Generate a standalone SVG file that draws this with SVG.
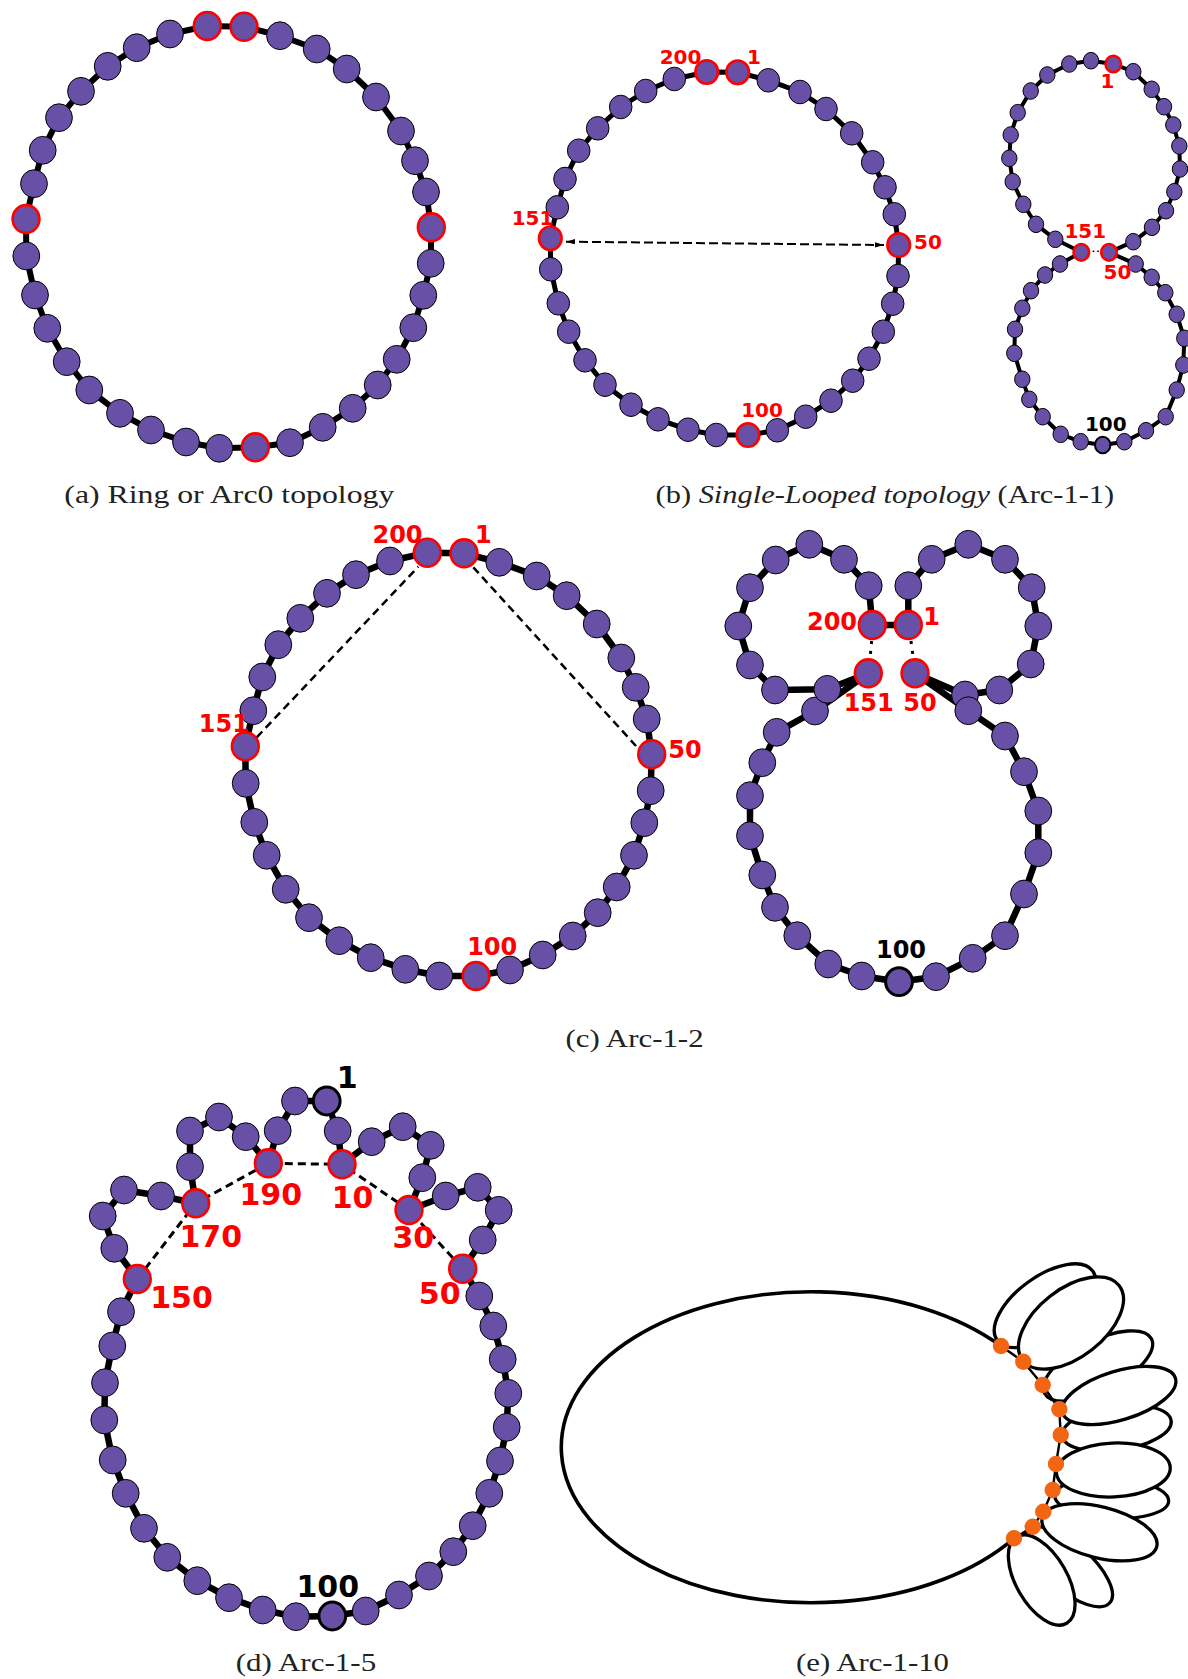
<svg xmlns="http://www.w3.org/2000/svg" xmlns:xlink="http://www.w3.org/1999/xlink" width="1188" height="1679" viewBox="0 0 1188 1679">
<style>
.n{fill:#6750a6;stroke:#000;stroke-width:1}
.r{fill:#6750a6;stroke:#f00;stroke-width:2.6}
.k{fill:#6750a6;stroke:#000;stroke-width:3}
.w{fill:none;stroke:#000;stroke-linejoin:round}
.lb{font-family:"DejaVu Sans",Verdana,sans-serif;font-weight:bold;fill:#f00;text-anchor:middle}
.lk{font-family:"DejaVu Sans",Verdana,sans-serif;font-weight:bold;fill:#000;text-anchor:middle}
.cap{font-family:"Liberation Serif","Times New Roman",serif;font-size:25px;fill:#222}
.pet{fill:#fff;stroke:#000;stroke-width:3.3}
.dot{fill:#f26513}
</style>
<defs>
<ellipse id="na" cx="0" cy="0" rx="13.4" ry="13.9"/>
<ellipse id="nb" cx="0" cy="0" rx="11.3" ry="11.8"/>
<ellipse id="nr" cx="0" cy="0" rx="7.7" ry="8.3"/>
<marker id="ah" viewBox="0 0 10 6" refX="10" refY="3" markerWidth="9" markerHeight="5.4" markerUnits="userSpaceOnUse" orient="auto-start-reverse"><path d="M0,0 L10,3 L0,6 z" fill="#000"/></marker>
</defs>
<rect width="1188" height="1679" fill="#fff"/>

<g id="connectors">
<polygon class="w" stroke-width="6" points="207.3,26 244,26.7 280,35.7 316.7,49 346.7,69 376,97 401,131 415,160.7 426,192 431.3,227.3 430.7,263.3 423.3,295.3 413.3,327.7 396.7,359.3 377.7,385 352.7,408.3 322.7,427.3 290,442.7 255.3,447.3 219.3,448.3 186,442 151,430 120,413.3 89.3,390 66.7,361.7 47.3,328.3 35,295 26.3,256 26,219 34,183.7 42.7,150.3 59,117.7 81,91.3 107.7,66.3 136.7,47.7 170,34"/>
<polygon class="w" stroke-width="5" points="706.7,72 737.7,72.3 768.3,80.3 800,92 826,109 851.7,133.3 872.7,162.3 885,187.3 894.3,214.3 898.7,245 898,276 892.7,303.7 883.3,331.7 869,358.7 852.7,380.7 831,400.7 805.7,416.7 777.3,430.3 748,435 716.3,435 688,429.7 658,419.3 631,404.7 605,384.7 585,360.3 568.7,331.7 558.3,303.3 550.7,269.3 550.3,238.3 557.3,207.3 565,179 578.7,150.7 597.7,128.3 620.7,107 645.7,91 674.3,79"/>
<line x1="566" y1="241.7" x2="884" y2="245" stroke="#000" stroke-width="2" stroke-dasharray="9 4" marker-start="url(#ah)" marker-end="url(#ah)"/>
<polygon class="w" stroke-width="4" points="1113.3,64 1133.3,71.7 1151.7,89.3 1164,106.7 1173.3,125 1179.3,146 1180,169 1174.3,191.7 1166,210.7 1152,227.3 1133.3,241.7 1109,252.3 1135.7,264 1151.7,277.3 1165.3,292.7 1176.7,314.3 1184.3,338.3 1183.3,365 1176.7,390 1165.7,416.7 1146,430.7 1124.3,441.7 1102.7,445 1080.7,441.7 1060.7,434.3 1042.7,416.7 1029.3,399.3 1022.3,379.3 1014.3,353.3 1015,329.3 1022.3,308.3 1031,290.7 1045,275 1060,264 1081.3,252.3 1055.3,239.3 1036,224.3 1023.3,204.3 1012.7,181.7 1009.3,158.3 1010.7,135 1017.7,112.7 1030.7,91 1047.3,75 1069.3,64 1091,60.7"/>
<line x1="1088" y1="251.3" x2="1102" y2="251.3" stroke="#000" stroke-width="1.6" stroke-dasharray="1.6 3"/>
<polygon class="w" stroke-width="6.5" points="427.3,552.7 464,553.3 499.3,562.3 536.7,576 566.7,595.7 596.7,624 621.3,658 635.7,687.3 646.7,719 651.7,754.3 650.7,790.7 644.3,822.7 634,855.3 616.7,887 597.7,912.7 572.7,936 542.7,955 510,970 476,976 439.3,976 405.3,969.3 370.7,957.7 339.3,940.7 309,917.7 285.7,889.3 266.7,855.3 254.3,822.3 245.7,783.3 245.3,746.3 253.3,710.7 262.3,677 278.3,644.7 300.3,618.3 327,593.3 356,574.7 390,561"/>
<line x1="256.7" y1="737.3" x2="418.3" y2="566.7" stroke="#000" stroke-width="2.5" stroke-dasharray="8 5"/>
<line x1="473.3" y1="567.3" x2="636" y2="746" stroke="#000" stroke-width="2.5" stroke-dasharray="8 5"/>
<polygon class="w" stroke-width="6.5" points="908.3,625 908.3,585.7 931.7,559.3 968.3,544.3 1005,559.3 1031.7,587.7 1038.3,626 1030.7,664 999.3,690 965,695 915,673.3 968.3,710.7 1005,736 1024,771.7 1038.3,811 1038.3,852.7 1024,894 1005,935.7 972.7,958.3 936,976.7 899,981.7 861.7,976 828.3,964 797.3,935.7 775,907.3 762.3,875 750,835.7 750,795.7 762.3,762.7 776.7,732.3 815,711 868.3,673.3 827.3,689.3 775,690 750,665 738.3,626 750,587.7 775.7,560 809.3,544.3 844,559.3 868.7,585.7 872.3,625"/>
<line x1="871.7" y1="641" x2="870" y2="658" stroke="#000" stroke-width="3" stroke-dasharray="3 7"/>
<line x1="911" y1="641" x2="913.3" y2="658" stroke="#000" stroke-width="3" stroke-dasharray="3 7"/>
<polygon class="w" stroke-width="6.5" points="326.7,1101 337.7,1131 342,1164.3 371.7,1141.7 402.7,1126.7 430.7,1145.3 422.3,1177.7 409,1210 445.7,1196 477.7,1187.3 498.7,1210.3 482.7,1240 462.7,1268.7 479.3,1296 493.3,1326 502.7,1359.3 508.3,1393.3 506.7,1427.3 500,1461 489.3,1493.3 472.7,1525.7 453.3,1551.7 429,1576 399,1595 365.7,1611 332.3,1616 296,1616.7 262.7,1610 229,1597.7 197.3,1580.7 167.3,1557.3 144,1528.3 125.7,1493.3 112.7,1460 104.3,1420 105,1382.7 112.3,1346 121,1311.7 137.3,1279 114.3,1248.3 102.7,1216 124,1190 161,1196 195.7,1203.3 190,1166.7 190,1131 219,1117 245.7,1136.7 268.3,1163.3 277.7,1130.7 295,1101"/>
<polyline fill="none" stroke="#000" stroke-width="3" stroke-dasharray="8 5" points="137.3,1279 195.7,1203.3 268.3,1163.3 342,1164.3 409,1210 462.7,1268.7"/>
</g>

<g id="panel-a">
<g id="a1" class="r"><use href="#na" x="207.3" y="26"/></g>
<g id="a2" class="r"><use href="#na" x="244" y="26.7"/></g>
<g id="a3" class="n"><use href="#na" x="280" y="35.7"/></g>
<g id="a4" class="n"><use href="#na" x="316.7" y="49"/></g>
<g id="a5" class="n"><use href="#na" x="346.7" y="69"/></g>
<g id="a6" class="n"><use href="#na" x="376" y="97"/></g>
<g id="a7" class="n"><use href="#na" x="401" y="131"/></g>
<g id="a8" class="n"><use href="#na" x="415" y="160.7"/></g>
<g id="a9" class="n"><use href="#na" x="426" y="192"/></g>
<g id="a10" class="r"><use href="#na" x="431.3" y="227.3"/></g>
<g id="a11" class="n"><use href="#na" x="430.7" y="263.3"/></g>
<g id="a12" class="n"><use href="#na" x="423.3" y="295.3"/></g>
<g id="a13" class="n"><use href="#na" x="413.3" y="327.7"/></g>
<g id="a14" class="n"><use href="#na" x="396.7" y="359.3"/></g>
<g id="a15" class="n"><use href="#na" x="377.7" y="385"/></g>
<g id="a16" class="n"><use href="#na" x="352.7" y="408.3"/></g>
<g id="a17" class="n"><use href="#na" x="322.7" y="427.3"/></g>
<g id="a18" class="n"><use href="#na" x="290" y="442.7"/></g>
<g id="a19" class="r"><use href="#na" x="255.3" y="447.3"/></g>
<g id="a20" class="n"><use href="#na" x="219.3" y="448.3"/></g>
<g id="a21" class="n"><use href="#na" x="186" y="442"/></g>
<g id="a22" class="n"><use href="#na" x="151" y="430"/></g>
<g id="a23" class="n"><use href="#na" x="120" y="413.3"/></g>
<g id="a24" class="n"><use href="#na" x="89.3" y="390"/></g>
<g id="a25" class="n"><use href="#na" x="66.7" y="361.7"/></g>
<g id="a26" class="n"><use href="#na" x="47.3" y="328.3"/></g>
<g id="a27" class="n"><use href="#na" x="35" y="295"/></g>
<g id="a28" class="n"><use href="#na" x="26.3" y="256"/></g>
<g id="a29" class="r"><use href="#na" x="26" y="219"/></g>
<g id="a30" class="n"><use href="#na" x="34" y="183.7"/></g>
<g id="a31" class="n"><use href="#na" x="42.7" y="150.3"/></g>
<g id="a32" class="n"><use href="#na" x="59" y="117.7"/></g>
<g id="a33" class="n"><use href="#na" x="81" y="91.3"/></g>
<g id="a34" class="n"><use href="#na" x="107.7" y="66.3"/></g>
<g id="a35" class="n"><use href="#na" x="136.7" y="47.7"/></g>
<g id="a36" class="n"><use href="#na" x="170" y="34"/></g>
<text class="cap" x="64.3" y="503" textLength="330" lengthAdjust="spacingAndGlyphs">(a) Ring or Arc0 topology</text>
</g>

<g id="panel-b-left">
<g id="b1" class="r"><use href="#nb" x="706.7" y="72"/></g>
<g id="b2" class="r"><use href="#nb" x="737.7" y="72.3"/></g>
<g id="b3" class="n"><use href="#nb" x="768.3" y="80.3"/></g>
<g id="b4" class="n"><use href="#nb" x="800" y="92"/></g>
<g id="b5" class="n"><use href="#nb" x="826" y="109"/></g>
<g id="b6" class="n"><use href="#nb" x="851.7" y="133.3"/></g>
<g id="b7" class="n"><use href="#nb" x="872.7" y="162.3"/></g>
<g id="b8" class="n"><use href="#nb" x="885" y="187.3"/></g>
<g id="b9" class="n"><use href="#nb" x="894.3" y="214.3"/></g>
<g id="b10" class="r"><use href="#nb" x="898.7" y="245"/></g>
<g id="b11" class="n"><use href="#nb" x="898" y="276"/></g>
<g id="b12" class="n"><use href="#nb" x="892.7" y="303.7"/></g>
<g id="b13" class="n"><use href="#nb" x="883.3" y="331.7"/></g>
<g id="b14" class="n"><use href="#nb" x="869" y="358.7"/></g>
<g id="b15" class="n"><use href="#nb" x="852.7" y="380.7"/></g>
<g id="b16" class="n"><use href="#nb" x="831" y="400.7"/></g>
<g id="b17" class="n"><use href="#nb" x="805.7" y="416.7"/></g>
<g id="b18" class="n"><use href="#nb" x="777.3" y="430.3"/></g>
<g id="b19" class="r"><use href="#nb" x="748" y="435"/></g>
<g id="b20" class="n"><use href="#nb" x="716.3" y="435"/></g>
<g id="b21" class="n"><use href="#nb" x="688" y="429.7"/></g>
<g id="b22" class="n"><use href="#nb" x="658" y="419.3"/></g>
<g id="b23" class="n"><use href="#nb" x="631" y="404.7"/></g>
<g id="b24" class="n"><use href="#nb" x="605" y="384.7"/></g>
<g id="b25" class="n"><use href="#nb" x="585" y="360.3"/></g>
<g id="b26" class="n"><use href="#nb" x="568.7" y="331.7"/></g>
<g id="b27" class="n"><use href="#nb" x="558.3" y="303.3"/></g>
<g id="b28" class="n"><use href="#nb" x="550.7" y="269.3"/></g>
<g id="b29" class="r"><use href="#nb" x="550.3" y="238.3"/></g>
<g id="b30" class="n"><use href="#nb" x="557.3" y="207.3"/></g>
<g id="b31" class="n"><use href="#nb" x="565" y="179"/></g>
<g id="b32" class="n"><use href="#nb" x="578.7" y="150.7"/></g>
<g id="b33" class="n"><use href="#nb" x="597.7" y="128.3"/></g>
<g id="b34" class="n"><use href="#nb" x="620.7" y="107"/></g>
<g id="b35" class="n"><use href="#nb" x="645.7" y="91"/></g>
<g id="b36" class="n"><use href="#nb" x="674.3" y="79"/></g>
<text class="lb" font-size="20" x="680.5" y="64">200</text>
<text class="lb" font-size="20" x="754" y="64">1</text>
<text class="lb" font-size="20" x="532.5" y="225">151</text>
<text class="lb" font-size="20" x="928" y="248.5">50</text>
<text class="lb" font-size="20" x="762" y="416.7">100</text>
</g>

<g id="panel-b-right">
<g id="br1" class="r"><use href="#nr" x="1113.3" y="64"/></g>
<g id="br2" class="n"><use href="#nr" x="1133.3" y="71.7"/></g>
<g id="br3" class="n"><use href="#nr" x="1151.7" y="89.3"/></g>
<g id="br4" class="n"><use href="#nr" x="1164" y="106.7"/></g>
<g id="br5" class="n"><use href="#nr" x="1173.3" y="125"/></g>
<g id="br6" class="n"><use href="#nr" x="1179.3" y="146"/></g>
<g id="br7" class="n"><use href="#nr" x="1180" y="169"/></g>
<g id="br8" class="n"><use href="#nr" x="1174.3" y="191.7"/></g>
<g id="br9" class="n"><use href="#nr" x="1166" y="210.7"/></g>
<g id="br10" class="n"><use href="#nr" x="1152" y="227.3"/></g>
<g id="br11" class="n"><use href="#nr" x="1133.3" y="241.7"/></g>
<g id="br12" class="r"><use href="#nr" x="1109" y="252.3"/></g>
<g id="br13" class="n"><use href="#nr" x="1135.7" y="264"/></g>
<g id="br14" class="n"><use href="#nr" x="1151.7" y="277.3"/></g>
<g id="br15" class="n"><use href="#nr" x="1165.3" y="292.7"/></g>
<g id="br16" class="n"><use href="#nr" x="1176.7" y="314.3"/></g>
<g id="br17" class="n"><use href="#nr" x="1184.3" y="338.3"/></g>
<g id="br18" class="n"><use href="#nr" x="1183.3" y="365"/></g>
<g id="br19" class="n"><use href="#nr" x="1176.7" y="390"/></g>
<g id="br20" class="n"><use href="#nr" x="1165.7" y="416.7"/></g>
<g id="br21" class="n"><use href="#nr" x="1146" y="430.7"/></g>
<g id="br22" class="n"><use href="#nr" x="1124.3" y="441.7"/></g>
<g id="br23" class="k" style="stroke-width:2"><use href="#nr" x="1102.7" y="445"/></g>
<g id="br24" class="n"><use href="#nr" x="1080.7" y="441.7"/></g>
<g id="br25" class="n"><use href="#nr" x="1060.7" y="434.3"/></g>
<g id="br26" class="n"><use href="#nr" x="1042.7" y="416.7"/></g>
<g id="br27" class="n"><use href="#nr" x="1029.3" y="399.3"/></g>
<g id="br28" class="n"><use href="#nr" x="1022.3" y="379.3"/></g>
<g id="br29" class="n"><use href="#nr" x="1014.3" y="353.3"/></g>
<g id="br30" class="n"><use href="#nr" x="1015" y="329.3"/></g>
<g id="br31" class="n"><use href="#nr" x="1022.3" y="308.3"/></g>
<g id="br32" class="n"><use href="#nr" x="1031" y="290.7"/></g>
<g id="br33" class="n"><use href="#nr" x="1045" y="275"/></g>
<g id="br34" class="n"><use href="#nr" x="1060" y="264"/></g>
<g id="br35" class="r"><use href="#nr" x="1081.3" y="252.3"/></g>
<g id="br36" class="n"><use href="#nr" x="1055.3" y="239.3"/></g>
<g id="br37" class="n"><use href="#nr" x="1036" y="224.3"/></g>
<g id="br38" class="n"><use href="#nr" x="1023.3" y="204.3"/></g>
<g id="br39" class="n"><use href="#nr" x="1012.7" y="181.7"/></g>
<g id="br40" class="n"><use href="#nr" x="1009.3" y="158.3"/></g>
<g id="br41" class="n"><use href="#nr" x="1010.7" y="135"/></g>
<g id="br42" class="n"><use href="#nr" x="1017.7" y="112.7"/></g>
<g id="br43" class="n"><use href="#nr" x="1030.7" y="91"/></g>
<g id="br44" class="n"><use href="#nr" x="1047.3" y="75"/></g>
<g id="br45" class="n"><use href="#nr" x="1069.3" y="64"/></g>
<g id="br46" class="n"><use href="#nr" x="1091" y="60.7"/></g>
<text class="lb" font-size="20" x="1107.5" y="88.3">1</text>
<text class="lb" font-size="20" x="1085.3" y="237.7">151</text>
<text class="lb" font-size="20" x="1117.5" y="279.3">50</text>
<text class="lk" font-size="20" x="1105.8" y="430.7">100</text>
<text class="cap" x="655.6" y="503" textLength="458.5" lengthAdjust="spacingAndGlyphs">(b) <tspan font-style="italic">Single-Looped topology</tspan> (Arc-1-1)</text>
</g>

<g id="panel-c-left">
<g id="c1" class="r"><use href="#na" x="427.3" y="552.7"/></g>
<g id="c2" class="r"><use href="#na" x="464" y="553.3"/></g>
<g id="c3" class="n"><use href="#na" x="499.3" y="562.3"/></g>
<g id="c4" class="n"><use href="#na" x="536.7" y="576"/></g>
<g id="c5" class="n"><use href="#na" x="566.7" y="595.7"/></g>
<g id="c6" class="n"><use href="#na" x="596.7" y="624"/></g>
<g id="c7" class="n"><use href="#na" x="621.3" y="658"/></g>
<g id="c8" class="n"><use href="#na" x="635.7" y="687.3"/></g>
<g id="c9" class="n"><use href="#na" x="646.7" y="719"/></g>
<g id="c10" class="r"><use href="#na" x="651.7" y="754.3"/></g>
<g id="c11" class="n"><use href="#na" x="650.7" y="790.7"/></g>
<g id="c12" class="n"><use href="#na" x="644.3" y="822.7"/></g>
<g id="c13" class="n"><use href="#na" x="634" y="855.3"/></g>
<g id="c14" class="n"><use href="#na" x="616.7" y="887"/></g>
<g id="c15" class="n"><use href="#na" x="597.7" y="912.7"/></g>
<g id="c16" class="n"><use href="#na" x="572.7" y="936"/></g>
<g id="c17" class="n"><use href="#na" x="542.7" y="955"/></g>
<g id="c18" class="n"><use href="#na" x="510" y="970"/></g>
<g id="c19" class="r"><use href="#na" x="476" y="976"/></g>
<g id="c20" class="n"><use href="#na" x="439.3" y="976"/></g>
<g id="c21" class="n"><use href="#na" x="405.3" y="969.3"/></g>
<g id="c22" class="n"><use href="#na" x="370.7" y="957.7"/></g>
<g id="c23" class="n"><use href="#na" x="339.3" y="940.7"/></g>
<g id="c24" class="n"><use href="#na" x="309" y="917.7"/></g>
<g id="c25" class="n"><use href="#na" x="285.7" y="889.3"/></g>
<g id="c26" class="n"><use href="#na" x="266.7" y="855.3"/></g>
<g id="c27" class="n"><use href="#na" x="254.3" y="822.3"/></g>
<g id="c28" class="n"><use href="#na" x="245.7" y="783.3"/></g>
<g id="c29" class="r"><use href="#na" x="245.3" y="746.3"/></g>
<g id="c30" class="n"><use href="#na" x="253.3" y="710.7"/></g>
<g id="c31" class="n"><use href="#na" x="262.3" y="677"/></g>
<g id="c32" class="n"><use href="#na" x="278.3" y="644.7"/></g>
<g id="c33" class="n"><use href="#na" x="300.3" y="618.3"/></g>
<g id="c34" class="n"><use href="#na" x="327" y="593.3"/></g>
<g id="c35" class="n"><use href="#na" x="356" y="574.7"/></g>
<g id="c36" class="n"><use href="#na" x="390" y="561"/></g>
<text class="lb" font-size="24" x="397.5" y="543.3">200</text>
<text class="lb" font-size="24" x="483.3" y="543.3">1</text>
<text class="lb" font-size="24" x="223.8" y="731.7">151</text>
<text class="lb" font-size="24" x="685" y="758.3">50</text>
<text class="lb" font-size="24" x="492.2" y="955">100</text>
</g>

<g id="panel-c-right">
<g id="cr1" class="r"><use href="#na" x="908.3" y="625"/></g>
<g id="cr2" class="n"><use href="#na" x="908.3" y="585.7"/></g>
<g id="cr3" class="n"><use href="#na" x="931.7" y="559.3"/></g>
<g id="cr4" class="n"><use href="#na" x="968.3" y="544.3"/></g>
<g id="cr5" class="n"><use href="#na" x="1005" y="559.3"/></g>
<g id="cr6" class="n"><use href="#na" x="1031.7" y="587.7"/></g>
<g id="cr7" class="n"><use href="#na" x="1038.3" y="626"/></g>
<g id="cr8" class="n"><use href="#na" x="1030.7" y="664"/></g>
<g id="cr9" class="n"><use href="#na" x="999.3" y="690"/></g>
<g id="cr10" class="n"><use href="#na" x="965" y="695"/></g>
<g id="cr11" class="r"><use href="#na" x="915" y="673.3"/></g>
<g id="cr12" class="n"><use href="#na" x="968.3" y="710.7"/></g>
<g id="cr13" class="n"><use href="#na" x="1005" y="736"/></g>
<g id="cr14" class="n"><use href="#na" x="1024" y="771.7"/></g>
<g id="cr15" class="n"><use href="#na" x="1038.3" y="811"/></g>
<g id="cr16" class="n"><use href="#na" x="1038.3" y="852.7"/></g>
<g id="cr17" class="n"><use href="#na" x="1024" y="894"/></g>
<g id="cr18" class="n"><use href="#na" x="1005" y="935.7"/></g>
<g id="cr19" class="n"><use href="#na" x="972.7" y="958.3"/></g>
<g id="cr20" class="n"><use href="#na" x="936" y="976.7"/></g>
<g id="cr21" class="k"><use href="#na" x="899" y="981.7"/></g>
<g id="cr22" class="n"><use href="#na" x="861.7" y="976"/></g>
<g id="cr23" class="n"><use href="#na" x="828.3" y="964"/></g>
<g id="cr24" class="n"><use href="#na" x="797.3" y="935.7"/></g>
<g id="cr25" class="n"><use href="#na" x="775" y="907.3"/></g>
<g id="cr26" class="n"><use href="#na" x="762.3" y="875"/></g>
<g id="cr27" class="n"><use href="#na" x="750" y="835.7"/></g>
<g id="cr28" class="n"><use href="#na" x="750" y="795.7"/></g>
<g id="cr29" class="n"><use href="#na" x="762.3" y="762.7"/></g>
<g id="cr30" class="n"><use href="#na" x="776.7" y="732.3"/></g>
<g id="cr31" class="n"><use href="#na" x="815" y="711"/></g>
<g id="cr32" class="r"><use href="#na" x="868.3" y="673.3"/></g>
<g id="cr33" class="n"><use href="#na" x="827.3" y="689.3"/></g>
<g id="cr34" class="n"><use href="#na" x="775" y="690"/></g>
<g id="cr35" class="n"><use href="#na" x="750" y="665"/></g>
<g id="cr36" class="n"><use href="#na" x="738.3" y="626"/></g>
<g id="cr37" class="n"><use href="#na" x="750" y="587.7"/></g>
<g id="cr38" class="n"><use href="#na" x="775.7" y="560"/></g>
<g id="cr39" class="n"><use href="#na" x="809.3" y="544.3"/></g>
<g id="cr40" class="n"><use href="#na" x="844" y="559.3"/></g>
<g id="cr41" class="n"><use href="#na" x="868.7" y="585.7"/></g>
<g id="cr42" class="r"><use href="#na" x="872.3" y="625"/></g>
<text class="lb" font-size="24" x="832" y="630">200</text>
<text class="lb" font-size="24" x="931.7" y="625">1</text>
<text class="lb" font-size="24" x="868.7" y="710.7">151</text>
<text class="lb" font-size="24" x="920" y="710.7">50</text>
<text class="lk" font-size="24" x="901" y="958.3">100</text>
<text class="cap" x="565.6" y="1047" textLength="138" lengthAdjust="spacingAndGlyphs">(c) Arc-1-2</text>
</g>

<g id="panel-d">
<g id="d1" class="k"><use href="#na" x="326.7" y="1101"/></g>
<g id="d2" class="n"><use href="#na" x="337.7" y="1131"/></g>
<g id="d3" class="r"><use href="#na" x="342" y="1164.3"/></g>
<g id="d4" class="n"><use href="#na" x="371.7" y="1141.7"/></g>
<g id="d5" class="n"><use href="#na" x="402.7" y="1126.7"/></g>
<g id="d6" class="n"><use href="#na" x="430.7" y="1145.3"/></g>
<g id="d7" class="n"><use href="#na" x="422.3" y="1177.7"/></g>
<g id="d8" class="r"><use href="#na" x="409" y="1210"/></g>
<g id="d9" class="n"><use href="#na" x="445.7" y="1196"/></g>
<g id="d10" class="n"><use href="#na" x="477.7" y="1187.3"/></g>
<g id="d11" class="n"><use href="#na" x="498.7" y="1210.3"/></g>
<g id="d12" class="n"><use href="#na" x="482.7" y="1240"/></g>
<g id="d13" class="r"><use href="#na" x="462.7" y="1268.7"/></g>
<g id="d14" class="n"><use href="#na" x="479.3" y="1296"/></g>
<g id="d15" class="n"><use href="#na" x="493.3" y="1326"/></g>
<g id="d16" class="n"><use href="#na" x="502.7" y="1359.3"/></g>
<g id="d17" class="n"><use href="#na" x="508.3" y="1393.3"/></g>
<g id="d18" class="n"><use href="#na" x="506.7" y="1427.3"/></g>
<g id="d19" class="n"><use href="#na" x="500" y="1461"/></g>
<g id="d20" class="n"><use href="#na" x="489.3" y="1493.3"/></g>
<g id="d21" class="n"><use href="#na" x="472.7" y="1525.7"/></g>
<g id="d22" class="n"><use href="#na" x="453.3" y="1551.7"/></g>
<g id="d23" class="n"><use href="#na" x="429" y="1576"/></g>
<g id="d24" class="n"><use href="#na" x="399" y="1595"/></g>
<g id="d25" class="n"><use href="#na" x="365.7" y="1611"/></g>
<g id="d26" class="k"><use href="#na" x="332.3" y="1616"/></g>
<g id="d27" class="n"><use href="#na" x="296" y="1616.7"/></g>
<g id="d28" class="n"><use href="#na" x="262.7" y="1610"/></g>
<g id="d29" class="n"><use href="#na" x="229" y="1597.7"/></g>
<g id="d30" class="n"><use href="#na" x="197.3" y="1580.7"/></g>
<g id="d31" class="n"><use href="#na" x="167.3" y="1557.3"/></g>
<g id="d32" class="n"><use href="#na" x="144" y="1528.3"/></g>
<g id="d33" class="n"><use href="#na" x="125.7" y="1493.3"/></g>
<g id="d34" class="n"><use href="#na" x="112.7" y="1460"/></g>
<g id="d35" class="n"><use href="#na" x="104.3" y="1420"/></g>
<g id="d36" class="n"><use href="#na" x="105" y="1382.7"/></g>
<g id="d37" class="n"><use href="#na" x="112.3" y="1346"/></g>
<g id="d38" class="n"><use href="#na" x="121" y="1311.7"/></g>
<g id="d39" class="r"><use href="#na" x="137.3" y="1279"/></g>
<g id="d40" class="n"><use href="#na" x="114.3" y="1248.3"/></g>
<g id="d41" class="n"><use href="#na" x="102.7" y="1216"/></g>
<g id="d42" class="n"><use href="#na" x="124" y="1190"/></g>
<g id="d43" class="n"><use href="#na" x="161" y="1196"/></g>
<g id="d44" class="r"><use href="#na" x="195.7" y="1203.3"/></g>
<g id="d45" class="n"><use href="#na" x="190" y="1166.7"/></g>
<g id="d46" class="n"><use href="#na" x="190" y="1131"/></g>
<g id="d47" class="n"><use href="#na" x="219" y="1117"/></g>
<g id="d48" class="n"><use href="#na" x="245.7" y="1136.7"/></g>
<g id="d49" class="r"><use href="#na" x="268.3" y="1163.3"/></g>
<g id="d50" class="n"><use href="#na" x="277.7" y="1130.7"/></g>
<g id="d51" class="n"><use href="#na" x="295" y="1101"/></g>
<text class="lk" font-size="30" x="347.2" y="1088.3">1</text>
<text class="lb" font-size="30" x="270.8" y="1205">190</text>
<text class="lb" font-size="30" x="352.5" y="1207.7">10</text>
<text class="lb" font-size="30" x="210.8" y="1246.7">170</text>
<text class="lb" font-size="30" x="413.3" y="1248.3">30</text>
<text class="lb" font-size="30" x="181.5" y="1308.3">150</text>
<text class="lb" font-size="30" x="439.7" y="1304.3">50</text>
<text class="lk" font-size="30" x="327.8" y="1596.7">100</text>
<text class="cap" x="235.7" y="1671" textLength="140.5" lengthAdjust="spacingAndGlyphs">(d) Arc-1-5</text>
</g>

<g id="panel-e">
<g id="e-petals">
<ellipse class="pet" cx="1045" cy="1305.7" rx="59" ry="29" transform="rotate(-36 1045 1305.7)"/>
<ellipse class="pet" cx="1098" cy="1366" rx="60" ry="25" transform="rotate(-27 1098 1366)"/>
<ellipse class="pet" cx="1116.7" cy="1428.3" rx="55" ry="22" transform="rotate(-8 1116.7 1428.3)"/>
<ellipse class="pet" cx="1111.7" cy="1498.3" rx="57" ry="20" transform="rotate(3 1111.7 1498.3)"/>
<ellipse class="pet" cx="1068.3" cy="1566.7" rx="55" ry="23" transform="rotate(41 1068.3 1566.7)"/>
<ellipse class="pet" cx="1071" cy="1323" rx="61" ry="34" transform="rotate(-38 1071 1323)"/>
<ellipse class="pet" cx="1119" cy="1395.5" rx="59" ry="24.5" transform="rotate(-17 1119 1395.5)"/>
<ellipse class="pet" cx="1113.3" cy="1470" rx="57" ry="27" transform="rotate(-2.5 1113.3 1470)"/>
<ellipse class="pet" cx="1099.5" cy="1532.3" rx="59" ry="25.5" transform="rotate(14 1099.5 1532.3)"/>
<ellipse class="pet" cx="1041.7" cy="1580" rx="50" ry="25.5" transform="rotate(60 1041.7 1580)"/>
</g>
<path id="e-main" d="M1001,1346 A250,155.5 0 1 0 1014,1538.3" fill="none" stroke="#000" stroke-width="3.6"/>
<polyline id="e-chain" fill="none" stroke="#000" stroke-width="2.4" points="1001,1346 1023.3,1361.7 1042.7,1385 1059.3,1409.3 1060.7,1435 1056,1464 1052.7,1490 1043.3,1511.7 1032.7,1526.7 1014,1538.3"/>
<g id="e1"><circle class="dot" cx="1001" cy="1346" r="8.2"/></g>
<g id="e2"><circle class="dot" cx="1023.3" cy="1361.7" r="8.2"/></g>
<g id="e3"><circle class="dot" cx="1042.7" cy="1385" r="8.2"/></g>
<g id="e4"><circle class="dot" cx="1059.3" cy="1409.3" r="8.2"/></g>
<g id="e5"><circle class="dot" cx="1060.7" cy="1435" r="8.2"/></g>
<g id="e6"><circle class="dot" cx="1056" cy="1464" r="8.2"/></g>
<g id="e7"><circle class="dot" cx="1052.7" cy="1490" r="8.2"/></g>
<g id="e8"><circle class="dot" cx="1043.3" cy="1511.7" r="8.2"/></g>
<g id="e9"><circle class="dot" cx="1032.7" cy="1526.7" r="8.2"/></g>
<g id="e10"><circle class="dot" cx="1014" cy="1538.3" r="8.2"/></g>
<text class="cap" x="796" y="1671" textLength="153" lengthAdjust="spacingAndGlyphs">(e) Arc-1-10</text>
</g>
</svg>
